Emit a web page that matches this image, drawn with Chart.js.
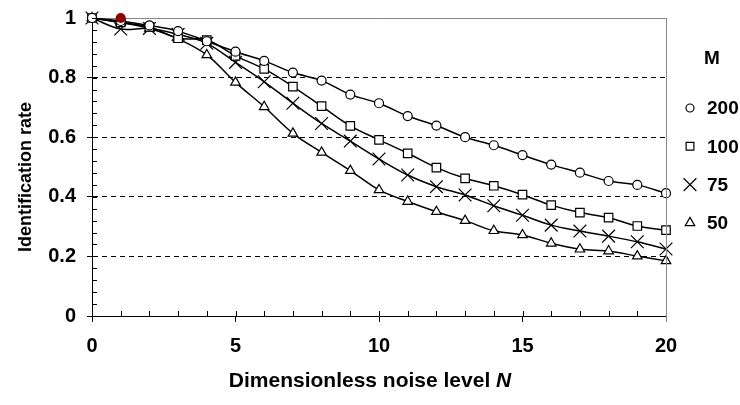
<!DOCTYPE html>
<html>
<head>
<meta charset="utf-8">
<script src="https://cdn.jsdelivr.net/npm/chart.js@4.4.1/dist/chart.umd.min.js"></script>
<style>
html, body { margin: 0; padding: 0; background: #fff; }
</style>
</head>
<body>
<canvas id="noise_chart" width="740" height="405"></canvas>
<script>
// noise level on the x axis, identification rate for each M
const noise_levels = [0, 1, 2, 3, 4, 5, 6, 7, 8, 9, 10, 11, 12, 13, 14, 15, 16, 17, 18, 19, 20];
const rate_m200 = [1, 0.99, 0.975, 0.956, 0.922, 0.887, 0.856, 0.817, 0.790, 0.743, 0.714, 0.671, 0.639, 0.600, 0.573, 0.540, 0.508, 0.481, 0.453, 0.440, 0.412];
const rate_m100 = [1, 0.985, 0.970, 0.932, 0.926, 0.873, 0.829, 0.770, 0.704, 0.638, 0.591, 0.546, 0.498, 0.462, 0.437, 0.407, 0.372, 0.347, 0.330, 0.302, 0.288];
const rate_m75 = [1, 0.963, 0.965, 0.945, 0.915, 0.851, 0.786, 0.714, 0.646, 0.587, 0.527, 0.473, 0.434, 0.406, 0.370, 0.338, 0.305, 0.285, 0.268, 0.249, 0.225];
const rate_m50 = [1, 0.985, 0.965, 0.930, 0.876, 0.784, 0.702, 0.613, 0.549, 0.488, 0.423, 0.384, 0.350, 0.320, 0.286, 0.272, 0.244, 0.224, 0.218, 0.201, 0.185];
const series_labels = ['200', '100', '75', '50'];
const legend_title = 'M';
const x_title = 'Dimensionless noise level ';
const x_title_symbol = 'N';
const y_title = 'Identification rate';
const highlight_x = [1];
const highlight_y = [1];

function to_points(xs, ys) {
    return xs.map((x, i) => ({x: x, y: ys[i]}));
}

function make_series(label, values, style, radius, legend_radius) {
    return {
        label: label,
        data: to_points(noise_levels, values),
        borderColor: '#000',
        borderWidth: 1.5,
        backgroundColor: '#fff',
        pointStyle: style,
        pointRadius: radius,
        legendRadius: legend_radius,
        pointBorderColor: '#000',
        pointBorderWidth: 1.2,
        pointBackgroundColor: '#fff',
        tension: 0.35,
        clip: false,
        fill: false
    };
}

const font_family = '"Liberation Sans", Arial, sans-serif';

// inner minor ticks, right frame, legend and axis titles
const decor_plugin = {
    id: 'decor',
    afterDraw(chart) {
        let ctx = chart.ctx;
        let area = chart.chartArea;
        let xs = chart.scales.x;
        let ys = chart.scales.y;
        ctx.save();
        ctx.strokeStyle = '#000';
        ctx.lineWidth = 1;
        ctx.beginPath();
        for (let i = 0; i <= 20; i++) {
            let px = Math.round(xs.getPixelForValue(i)) + 0.5;
            ctx.moveTo(px, area.bottom);
            ctx.lineTo(px, area.bottom - 5);
        }
        for (let i = 0; i <= 25; i++) {
            let py = Math.round(ys.getPixelForValue(i * 0.04)) + 0.5;
            ctx.moveTo(area.left, py);
            ctx.lineTo(area.left + 5, py);
        }
        ctx.stroke();

        ctx.strokeStyle = '#888';
        ctx.beginPath();
        ctx.moveTo(Math.round(area.right) + 0.5, area.top);
        ctx.lineTo(Math.round(area.right) + 0.5, area.bottom + 6);
        ctx.stroke();

        // legend
        ctx.textBaseline = 'middle';
        ctx.textAlign = 'left';
        ctx.fillStyle = '#000';
        ctx.font = 'bold 19px ' + font_family;
        ctx.fillText(legend_title, 704, 59);
        chart.data.datasets.slice(0, series_labels.length).forEach((ds, i) => {
            let ly = 108 + i * 38.3;
            ctx.fillStyle = '#fff';
            ctx.strokeStyle = '#000';
            ctx.lineWidth = 1.2;
            Chart.helpers.drawPoint(ctx, {
                pointStyle: ds.pointStyle,
                radius: ds.legendRadius,
                borderWidth: 1.2,
                rotation: 0
            }, 690, ly);
            ctx.fillStyle = '#000';
            ctx.fillText(ds.label, 707, ly + 1);
        });

        // x title with italic symbol
        ctx.font = 'bold 21px ' + font_family;
        let w1 = ctx.measureText(x_title).width;
        ctx.font = 'italic bold 21px ' + font_family;
        let w2 = ctx.measureText(x_title_symbol).width;
        let start = (area.left + area.right) / 2 - (w1 + w2) / 2 - 9;
        ctx.font = 'bold 21px ' + font_family;
        ctx.fillText(x_title, start, 381);
        ctx.font = 'italic bold 21px ' + font_family;
        ctx.fillText(x_title_symbol, start + w1, 381);

        // y title
        ctx.translate(26, 177);
        ctx.rotate(-Math.PI / 2);
        ctx.textAlign = 'center';
        ctx.font = 'bold 18px ' + font_family;
        ctx.fillText(y_title, 0, 0);
        ctx.restore();
    }
};

const noise_config = {
    type: 'line',
    data: {
        datasets: [
            make_series(series_labels[0], rate_m200, 'circle', 4.5, 4),
            make_series(series_labels[1], rate_m100, 'rect', 6, 5.5),
            make_series(series_labels[2], rate_m75, 'crossRot', 9, 9),
            make_series(series_labels[3], rate_m50, 'triangle', 5.5, 5.5),
            {
                label: 'highlight',
                data: to_points(highlight_x, highlight_y),
                showLine: false,
                order: -1,
                clip: false,
                pointStyle: 'circle',
                pointRadius: 5,
                pointBackgroundColor: '#8b0000',
                pointBorderColor: '#8b0000',
                pointBorderWidth: 0
            }
        ]
    },
    options: {
        responsive: false,
        animation: false,
        layout: {padding: {top: 18, right: 74, left: 0, bottom: 0}},
        plugins: {
            legend: {display: false},
            tooltip: {enabled: false}
        },
        scales: {
            x: {
                type: 'linear',
                min: 0,
                max: 20,
                afterFit: (scale) => { scale.height = 89; },
                ticks: {
                    stepSize: 5,
                    color: '#000',
                    padding: 12,
                    maxRotation: 0,
                    font: {family: font_family, size: 20, weight: 'bold'}
                },
                grid: {
                    drawOnChartArea: false,
                    drawTicks: true,
                    tickLength: 6,
                    tickColor: '#000'
                },
                border: {color: '#000', width: 1}
            },
            y: {
                min: 0,
                max: 1,
                afterFit: (scale) => {
                    scale.width = 92;
                    scale.paddingTop = 0;
                    scale.paddingBottom = 0;
                },
                ticks: {
                    stepSize: 0.2,
                    color: '#000',
                    padding: 11,
                    font: {family: font_family, size: 20, weight: 'bold'},
                    callback: (v) => String(parseFloat(v.toFixed(2)))
                },
                grid: {
                    color: (c) => {
                        let v = c.tick ? c.tick.value : 0;
                        if (v > 0.99) return '#888';
                        if (v < 0.01) return 'rgba(0,0,0,0)';
                        return '#000';
                    },
                    tickColor: '#000',
                    tickLength: 5
                },
                border: {
                    color: '#000',
                    width: 1,
                    dash: (c) => {
                        let v = c.tick ? c.tick.value : 0;
                        return (v > 0.99 || v < 0.01) ? [] : [5, 4];
                    }
                }
            }
        }
    },
    plugins: [decor_plugin]
};

let noise_chart = new Chart(document.getElementById('noise_chart'), noise_config);
</script>
</body>
</html>
